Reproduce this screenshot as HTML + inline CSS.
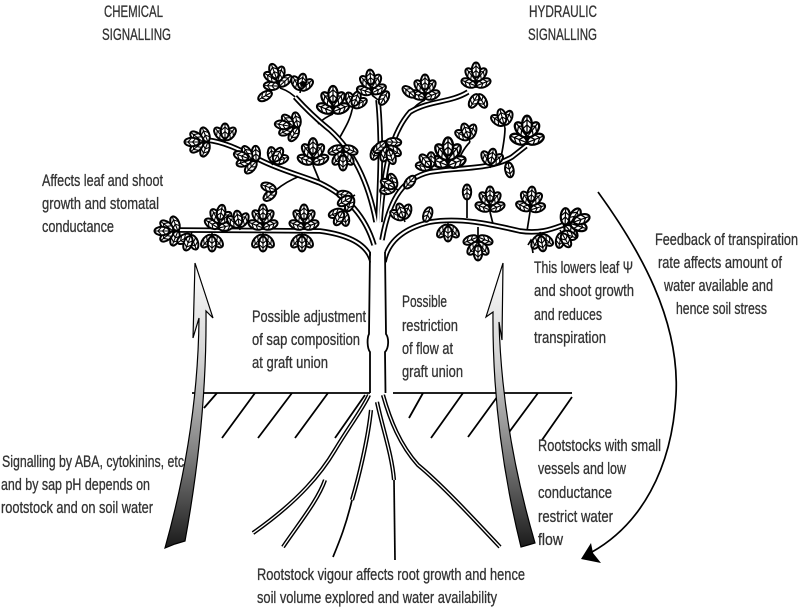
<!DOCTYPE html>
<html><head><meta charset="utf-8"><style>
html,body{margin:0;padding:0;background:#fff;}
svg{display:block;}
text{font-family:"Liberation Sans",sans-serif;font-size:16.5px;fill:#333;stroke:#333;stroke-width:0.3;}
</style></head><body>
<svg width="800" height="609" viewBox="0 0 800 609" xmlns="http://www.w3.org/2000/svg">
<defs>
 <linearGradient id="ga" x1="0" y1="263" x2="0" y2="548" gradientUnits="userSpaceOnUse">
  <stop offset="0" stop-color="#ffffff"/><stop offset="0.35" stop-color="#d0d0d0"/><stop offset="0.65" stop-color="#858585"/><stop offset="1" stop-color="#1a1a1a"/>
 </linearGradient>
 <g id="lf"><ellipse cx="0" cy="-8" rx="4.2" ry="7.5" fill="#fff" stroke="#000" stroke-width="2"/><path d="M0,-1.5V-14.5M-3.2,-4.5L0,-7.5L3.2,-4.5M-3.4,-9L0,-12L3.4,-9" fill="none" stroke="#000" stroke-width="1.1"/></g>
 <g id="c5"><path d="M0,0V-10" stroke="#000" stroke-width="1.6"/>
  <use href="#lf" transform="translate(0,-2) rotate(-68)"/><use href="#lf" transform="translate(0,-2) rotate(68)"/>
  <use href="#lf" transform="translate(0,-7) rotate(-38)"/><use href="#lf" transform="translate(0,-7) rotate(38)"/>
  <use href="#lf" transform="translate(0,-10)"/></g>
 <g id="c3"><path d="M0,0V-4" stroke="#000" stroke-width="1.6"/>
  <use href="#lf" transform="translate(0,-3) rotate(-40)"/><use href="#lf" transform="translate(0,-3) rotate(40)"/>
  <use href="#lf" transform="translate(0,-4)"/></g>
 <g id="c2"><use href="#lf" transform="rotate(-30)"/><use href="#lf" transform="rotate(30)"/></g>
 <g id="brs" fill="none">
  <path d="M372,262 C368,245 350,235 320,231 L175,230"/>
  <path d="M384,262 C388,240 405,228 430,222 C460,217 490,224 520,231 C540,234 552,229 563,225"/>
  <path d="M374,245 C365,215 345,195 320,183 C300,175 280,170 260,160 C240,150 225,142 207,140"/>
  <path d="M376,222 C368,180 352,150 330,130 C315,118 305,108 295,97"/>
  <path d="M378,222 C380,180 382,140 378,100"/>
  <path d="M380,222 C384,170 390,135 410,112 C430,100 450,103 468,92"/>
  <path d="M382,240 C390,195 405,178 430,172 C460,167 490,170 512,157 L526,146"/>
 </g>
 <g id="rts" fill="none">
  <path d="M369,395 C362,410 350,425 335,450 C322,472 300,500 253,533"/>
  <path d="M325,480 C318,500 300,522 283,547"/>
  <path d="M371,410 C368,440 358,480 352,500"/>
  <path d="M377,402 C383,430 392,455 394,480"/>
  <path d="M383,395 C390,420 400,445 418,465 C440,483 470,515 500,547"/>
 </g>
</defs>

<!-- ground -->
<g stroke="#000" stroke-width="1.8" fill="none">
 <path d="M192,393 H370 M393,393 H572"/>
 <path d="M217,393 L204,408 M255,393 L222,438 M292,393 L258,438 M328,393 L295,438 M365,395 L335,438"/>
 <path d="M423,393 L409,418 M463,393 L431,438 M500,393 L468,437 M538,393 L507,435 M572,397 L542,440"/>
</g>

<!-- roots -->
<use href="#rts" stroke="#000" stroke-width="4.2"/>
<use href="#rts" stroke="#fff" stroke-width="1.3"/>
<g stroke="#000" stroke-width="1.7" fill="none">
 <path d="M352,500 C346,525 340,540 333,557"/>
 <path d="M394,480 L395,560"/>
</g>

<!-- twigs -->
<g stroke="#000" stroke-width="1.7" fill="none">
 <path d="M298,100 C292,93 286,90 280,88"/>
 <path d="M318,124 C322,120 328,116 333,114"/>
 <path d="M378,100 C376,98 374,97 372,95"/>
 <path d="M410,112 C415,106 420,102 425,100"/>
 <path d="M320,182 L313,165"/>
 <path d="M300,176 C290,180 282,185 276,190"/>
 <path d="M467,218 L467,200"/>
 <path d="M493,224 L490,212"/>
 <path d="M527,231 L530,212"/>
 <path d="M478,227 L478,235"/>
 <path d="M340,137 C345,128 350,120 352,110"/>
 <path d="M455,170 C458,160 462,150 470,142"/>
 <path d="M500,164 C502,150 505,140 505,128"/>
 <path d="M533,253 L531,241 M528,245 L531,240 L534,244"/>
</g>

<!-- branches -->
<use href="#brs" stroke="#000" stroke-width="5.5"/>
<use href="#brs" stroke="#fff" stroke-width="2"/>

<!-- trunk -->
<rect x="371" y="250" width="13.5" height="143" fill="#fff"/>
<path d="M370,393 L370,352 C367,348 367,338 369,334 L370,252" fill="none" stroke="#000" stroke-width="1.8"/>
<path d="M385.5,393 L385,352 C389,348 389,338 386,334 L385,252" fill="none" stroke="#000" stroke-width="1.8"/>

<!-- leaf clusters -->
<g>
 <use href="#c5" transform="translate(280,88) rotate(-20)"/>
 <use href="#lf" transform="translate(272,92) rotate(-120)"/>
 <use href="#c3" transform="translate(300,93) rotate(10)"/>
 <circle cx="303" cy="84" r="3" fill="#000"/>
 <use href="#c5" transform="translate(333,114) scale(1.1)"/>
 <use href="#c3" transform="translate(352,110) rotate(20)"/>
 <use href="#c5" transform="translate(372,95) rotate(-5)"/>
 <use href="#lf" transform="translate(380,105) rotate(30)"/>
 <use href="#c5" transform="translate(425,100)"/>
 <use href="#lf" transform="translate(415,97) rotate(-50)"/>
 <use href="#c5" transform="translate(476,88)"/>
 <use href="#c2" transform="translate(478,94) rotate(180)"/>
 <use href="#c5" transform="translate(300,128) rotate(-80)"/>
 <use href="#c5" transform="translate(343,145) rotate(180)"/>
 <use href="#c5" transform="translate(313,165) scale(1.05)"/>
 <use href="#c5" transform="translate(258,162) rotate(-70)"/>
 <use href="#c3" transform="translate(272,165) rotate(30)"/>
 <use href="#c5" transform="translate(210,142) rotate(-90)"/>
 <use href="#c3" transform="translate(225,143)"/>
 <use href="#c2" transform="translate(276,190) rotate(-100)"/>
 <use href="#c3" transform="translate(345,208) rotate(-150)"/>
 <use href="#c3" transform="translate(355,195) rotate(-120)"/>
 <use href="#lf" transform="translate(378,145) rotate(-160)"/>
 <use href="#c5" transform="translate(385,140) rotate(160)"/>
 <!-- lower left row -->
 <use href="#c5" transform="translate(180,231) rotate(-90)"/>
 <use href="#c5" transform="translate(218,230) rotate(10)"/>
 <use href="#c3" transform="translate(212,232) rotate(180)"/>
 <use href="#c5" transform="translate(263,230)"/>
 <use href="#c3" transform="translate(263,232) rotate(180)"/>
 <use href="#c5" transform="translate(304,230)"/>
 <use href="#c3" transform="translate(302,232) rotate(180)"/>
 <use href="#c3" transform="translate(192,232) rotate(200)"/>
 <use href="#c3" transform="translate(240,230) rotate(-10)"/>
 <!-- right -->
 <use href="#c5" transform="translate(448,168) scale(1.2)"/>
 <use href="#c3" transform="translate(433,170) rotate(-40)"/>
 <use href="#c3" transform="translate(470,142) rotate(-20)"/>
 <use href="#c3" transform="translate(490,168) rotate(10)"/>
 <use href="#c3" transform="translate(505,128) rotate(-15)"/>
 <use href="#c5" transform="translate(527,145) scale(1.15)"/>
 <use href="#lf" transform="translate(508,162) rotate(170)"/>
 <use href="#lf" transform="translate(415,176) rotate(-140)"/>
 <use href="#c3" transform="translate(398,190) rotate(-60)"/>
 <use href="#lf" transform="translate(467,200)"/>
 <use href="#c5" transform="translate(490,212)"/>
 <use href="#c5" transform="translate(530,212) rotate(5)"/>
 <use href="#c5" transform="translate(563,226) rotate(70) scale(1.1)"/>
 <use href="#c3" transform="translate(560,230) rotate(150)"/>
 <use href="#c3" transform="translate(405,222) rotate(-20)"/>
 <use href="#lf" transform="translate(425,222) rotate(20)"/>
 <use href="#c3" transform="translate(448,222) rotate(180)"/>
 <use href="#c5" transform="translate(478,235) rotate(180)"/>
 <use href="#c3" transform="translate(540,232) rotate(170)"/>
</g>

<!-- gradient arrows -->
<path d="M195,263 L213,318 L206,311 Q207,420 185,541 L175,544 L165,548 Q198,430 199,318 L193,338 Z" fill="url(#ga)" stroke="#000" stroke-width="1.2" stroke-linejoin="miter"/>
<path d="M503,263 L486,317 L493,312 Q492,430 521,547 L528,545 L535,543 Q502,430 499,322 L502,340 Z" fill="url(#ga)" stroke="#000" stroke-width="1.2" stroke-linejoin="miter"/>

<!-- feedback arrow -->
<path d="M598,192 C640,250 680,320 676,395 C672,470 640,525 592,552" fill="none" stroke="#000" stroke-width="1.7"/>
<path d="M581,559 L591,543 L593,553 L601,563 Z" fill="#000"/>

<!-- text -->
<text x="104" y="17" textLength="59" lengthAdjust="spacingAndGlyphs">CHEMICAL</text>
<text x="102" y="40" textLength="69" lengthAdjust="spacingAndGlyphs">SIGNALLING</text>
<text x="529" y="17" textLength="68" lengthAdjust="spacingAndGlyphs">HYDRAULIC</text>
<text x="528" y="40" textLength="69" lengthAdjust="spacingAndGlyphs">SIGNALLING</text>

<text x="42" y="186" textLength="121" lengthAdjust="spacingAndGlyphs">Affects leaf and shoot</text>
<text x="42" y="209" textLength="117" lengthAdjust="spacingAndGlyphs">growth and stomatal</text>
<text x="42" y="232" textLength="72" lengthAdjust="spacingAndGlyphs">conductance</text>

<text x="655" y="245" textLength="143" lengthAdjust="spacingAndGlyphs">Feedback of transpiration</text>
<text x="658" y="268" textLength="124" lengthAdjust="spacingAndGlyphs">rate affects amount of</text>
<text x="664" y="291" textLength="109" lengthAdjust="spacingAndGlyphs">water available and</text>
<text x="676" y="314" textLength="91" lengthAdjust="spacingAndGlyphs">hence soil stress</text>

<text x="534" y="273" textLength="99" lengthAdjust="spacingAndGlyphs">This lowers leaf Ψ</text>
<text x="534" y="296" textLength="100" lengthAdjust="spacingAndGlyphs">and shoot growth</text>
<text x="534" y="320" textLength="68" lengthAdjust="spacingAndGlyphs">and reduces</text>
<text x="534" y="343" textLength="72" lengthAdjust="spacingAndGlyphs">transpiration</text>

<text x="402" y="307" textLength="45" lengthAdjust="spacingAndGlyphs">Possible</text>
<text x="402" y="331" textLength="56" lengthAdjust="spacingAndGlyphs">restriction</text>
<text x="402" y="354" textLength="51" lengthAdjust="spacingAndGlyphs">of flow at</text>
<text x="402" y="377" textLength="61" lengthAdjust="spacingAndGlyphs">graft union</text>

<text x="252" y="322" textLength="114" lengthAdjust="spacingAndGlyphs">Possible adjustment</text>
<text x="252" y="345" textLength="108" lengthAdjust="spacingAndGlyphs">of sap composition</text>
<text x="252" y="368" textLength="76" lengthAdjust="spacingAndGlyphs">at graft union</text>

<text x="2" y="467" textLength="182" lengthAdjust="spacingAndGlyphs">Signalling by ABA, cytokinins, etc</text>
<text x="1" y="490" textLength="149" lengthAdjust="spacingAndGlyphs">and by sap pH depends on</text>
<text x="1" y="513" textLength="152" lengthAdjust="spacingAndGlyphs">rootstock and on soil water</text>

<text x="538" y="451" textLength="123" lengthAdjust="spacingAndGlyphs">Rootstocks with small</text>
<text x="538" y="474" textLength="88" lengthAdjust="spacingAndGlyphs">vessels and low</text>
<text x="538" y="498" textLength="74" lengthAdjust="spacingAndGlyphs">conductance</text>
<text x="538" y="522" textLength="75" lengthAdjust="spacingAndGlyphs">restrict water</text>
<text x="538" y="545" textLength="25" lengthAdjust="spacingAndGlyphs">flow</text>

<text x="257" y="580" textLength="268" lengthAdjust="spacingAndGlyphs">Rootstock vigour affects root growth and hence</text>
<text x="257" y="603" textLength="240" lengthAdjust="spacingAndGlyphs">soil volume explored and water availability</text>
</svg>
</body></html>
